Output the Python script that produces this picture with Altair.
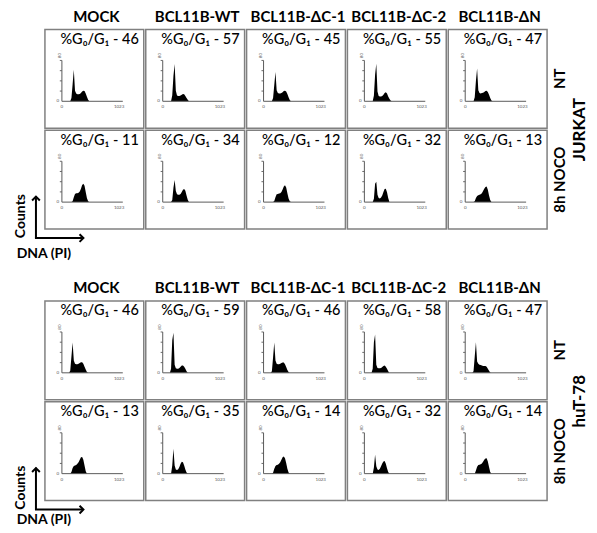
import altair as alt
import pandas as pd

constructs = ["MOCK", "BCL11B-WT", "BCL11B-ΔC-1", "BCL11B-ΔC-2", "BCL11B-ΔN"]
conditions = ["NT", "8h NOCO"]
dna = [120, 140, 160, 180, 200, 220, 240, 260, 280, 300, 320, 340, 360, 380, 400, 420, 440, 460]

# JURKAT, untreated
jurkat_nt_mock = [0, 0, 8, 42, 77, 26, 19, 17, 17, 18, 20, 24, 26, 25, 19, 11, 4, 0]
jurkat_nt_wt = [0, 0, 15, 62, 91, 26, 14, 13, 13, 14, 16, 18, 17, 13, 8, 4, 0, 0]
jurkat_nt_dc1 = [0, 0, 8, 40, 72, 27, 20, 19, 19, 20, 22, 25, 26, 24, 18, 10, 3, 0]
jurkat_nt_dc2 = [0, 0, 14, 65, 92, 24, 13, 12, 12, 13, 16, 20, 22, 19, 12, 6, 2, 0]
jurkat_nt_dn = [0, 0, 10, 50, 80, 27, 20, 19, 20, 21, 23, 25, 26, 23, 16, 8, 2, 0]
# JURKAT, 8h nocodazole
jurkat_noco_mock = [0, 0, 0, 2, 12, 20, 22, 22, 23, 26, 33, 42, 45, 40, 25, 10, 2, 0]
jurkat_noco_wt = [0, 0, 5, 35, 54, 27, 19, 18, 18, 20, 25, 30, 32, 28, 16, 6, 0, 0]
jurkat_noco_dc1 = [0, 0, 0, 3, 12, 19, 20, 21, 22, 25, 31, 38, 41, 36, 22, 9, 2, 0]
jurkat_noco_dc2 = [0, 0, 8, 45, 50, 18, 10, 9, 11, 16, 25, 32, 33, 24, 10, 0, 0, 0]
jurkat_noco_dn = [0, 0, 2, 10, 15, 17, 18, 19, 22, 27, 33, 37, 38, 30, 16, 5, 0, 0]
# huT-78, untreated
hut_nt_mock = [0, 5, 40, 74, 30, 22, 21, 21, 22, 24, 26, 26, 22, 15, 8, 2, 0, 0]
hut_nt_wt = [0, 10, 80, 98, 20, 11, 10, 10, 12, 15, 18, 18, 15, 10, 4, 0, 0, 0]
hut_nt_dc1 = [0, 4, 38, 74, 30, 22, 21, 21, 22, 24, 25, 25, 21, 14, 7, 2, 0, 0]
hut_nt_dc2 = [0, 10, 75, 94, 20, 12, 11, 11, 12, 14, 17, 18, 15, 10, 4, 0, 0, 0]
hut_nt_dn = [0, 4, 40, 75, 28, 22, 20, 19, 18, 17, 17, 17, 15, 10, 5, 1, 0, 0]
# huT-78, 8h nocodazole
hut_noco_mock = [0, 0, 4, 14, 19, 20, 21, 24, 28, 34, 40, 41, 34, 20, 6, 0, 0, 0]
hut_noco_wt = [0, 0, 20, 61, 20, 10, 9, 11, 16, 24, 29, 28, 20, 10, 3, 0, 0, 0]
hut_noco_dc1 = [0, 0, 2, 12, 19, 21, 22, 24, 28, 34, 40, 42, 38, 26, 12, 3, 0, 0]
hut_noco_dc2 = [0, 0, 15, 46, 18, 10, 9, 12, 18, 25, 30, 31, 24, 13, 4, 0, 0, 0]
hut_noco_dn = [0, 0, 0, 8, 17, 21, 22, 23, 25, 29, 34, 37, 38, 30, 16, 4, 0, 0]

jurkat_g0g1_nt = [46, 57, 45, 55, 47]
jurkat_g0g1_noco = [11, 34, 12, 32, 13]
hut_g0g1_nt = [46, 59, 46, 58, 47]
hut_g0g1_noco = [13, 35, 14, 32, 14]

y_ticks = [25, 50, 75, 100]

FONT = "Lato, 'DejaVu Sans', sans-serif"


def block_frame(hists, g0g1, cell_name):
    rows = []
    for ri, cond in enumerate(conditions):
        for ci, c in enumerate(constructs):
            for d, v in zip(dna, hists[cond][ci]):
                rows.append(dict(kind="hist", construct=c, cond=cond, ri=ri, ci=ci,
                                 dna=d, count=v))
            rows.append(dict(kind="label", construct=c, cond=cond, ri=ri, ci=ci,
                             cell=cell_name, label=f"%G₀/G₁ - {g0g1[cond][ci]}"))
            for t in y_ticks:
                rows.append(dict(kind="tick", construct=c, cond=cond, ri=ri, ci=ci, tick=t))
    rows.append(dict(kind="legend", construct="MOCK", cond="8h NOCO", ri=1, ci=0))
    return pd.DataFrame(rows)


xs = alt.Scale(domain=[-285, 1375])
ys = alt.Scale(domain=[-66, 176])
AX = "#5a5a5a"


def X(f):
    return alt.X(f, type="quantitative", scale=xs, axis=None)


def Y(f):
    return alt.Y(f, type="quantitative", scale=ys, axis=None)


def block(df, dna_label_y):
    base = alt.Chart()
    hist = base.transform_filter("datum.kind == 'hist'").transform_calculate(
        base0="0").mark_area(color="black", interpolate="linear").encode(
        x=X("dna"), y=alt.Y("count:Q", scale=ys, axis=None, stack=None),
        y2="base0:Q",
    )
    lab = base.transform_filter("datum.kind == 'label'").transform_calculate(
        zero="0", top="100", xend="1023", lblx="-70", lbly="-15", endx="961",
        topx="-40", topy="112", tickx="-35")
    yaxis = lab.mark_rule(color=AX, strokeWidth=1).encode(
        x=X("zero"), y=Y("zero"), y2="top:Q")
    xaxis = lab.mark_rule(color=AX, strokeWidth=1).encode(
        x=X("zero"), x2="xend:Q", y=Y("zero"))
    ticks = base.transform_filter("datum.kind == 'tick'").transform_calculate(
        zero="0", tickx="-35").mark_rule(color=AX, strokeWidth=0.9).encode(
        x=X("tickx"), x2="zero:Q", y=Y("tick"))
    tl0 = lab.mark_text(fontSize=4.5, color=AX, font=FONT).encode(
        x=X("lblx"), y=Y("zero"), text=alt.value("0"))
    tl1 = lab.mark_text(fontSize=4.5, color=AX, font=FONT).encode(
        x=X("zero"), y=Y("lbly"), text=alt.value("0"))
    tl2 = lab.mark_text(fontSize=4.5, color=AX, font=FONT).encode(
        x=X("endx"), y=Y("lbly"), text=alt.value("1023"))
    tl3 = lab.mark_text(fontSize=4.5, color=AX, font=FONT, angle=270).encode(
        x=X("topx"), y=Y("topy"), text=alt.value("80"))
    pct = lab.mark_text(fontSize=14.5, fontWeight=500, color="black", font=FONT,
                        align="right", baseline="middle").encode(
        x=alt.value(94), y=alt.value(10.5), text="label:N")

    # column headers (top row only), row labels and cell-line title (last column)
    colhead = lab.transform_filter("datum.ri == 0").mark_text(
        fontSize=15, fontWeight="bold", font=FONT, color="black",
        align="center", baseline="alphabetic").encode(
        x=alt.value(51.5), y=alt.value(-7.5), text="construct:N")
    rowhead = lab.transform_filter("datum.ci == 4").mark_text(
        fontSize=15, fontWeight="bold", font=FONT, color="black", angle=270,
        align="center", baseline="middle").encode(
        x=alt.value(112), y=alt.value(49.5), text="cond:N")
    title = lab.transform_filter("datum.ci == 4 && datum.ri == 0").mark_text(
        fontSize=17, fontWeight="bold", font=FONT, color="black", angle=270,
        align="center", baseline="middle").encode(
        x=alt.value(132), y=alt.value(100.5), text="cell:N")

    leg = base.transform_filter("datum.kind == 'legend'")
    vrule = leg.mark_rule(color="black", strokeWidth=2).encode(
        x=alt.value(-9), y=alt.value(108), y2=alt.value(66))
    hrule = leg.mark_rule(color="black", strokeWidth=2).encode(
        x=alt.value(-10), x2=alt.value(38), y=alt.value(108))
    up = leg.mark_point(shape="M-1,0.6L0,-0.4L1,0.6", filled=False, color="black",
                        strokeWidth=2, size=60, opacity=1).encode(
        x=alt.value(-9), y=alt.value(68))
    right = leg.mark_point(shape="M-0.6,-1L0.4,0L-0.6,1", filled=False, color="black",
                           strokeWidth=2, size=60, opacity=1).encode(
        x=alt.value(37), y=alt.value(108))
    counts = leg.mark_text(fontSize=14, fontWeight="bold", font=FONT, angle=270,
                           color="black").encode(
        x=alt.value(-24), y=alt.value(86), text=alt.value("Counts"))
    dnat = leg.mark_text(fontSize=14, fontWeight="bold", font=FONT,
                         color="black").encode(
        x=alt.value(-1), y=alt.value(dna_label_y), text=alt.value("DNA (PI)"))

    layered = alt.layer(hist, yaxis, xaxis, ticks, tl0, tl1, tl2, tl3, pct,
                        colhead, rowhead, title,
                        vrule, hrule, up, right, counts, dnat, data=df).properties(
        width=99, height=99)
    return layered.facet(
        row=alt.Row("cond:N", sort=conditions, title=None, header=None),
        column=alt.Column("construct:N", sort=constructs, title=None, header=None),
        spacing=2,
        bounds="flush",
    )


jurkat_df = block_frame(
    {"NT": [jurkat_nt_mock, jurkat_nt_wt, jurkat_nt_dc1, jurkat_nt_dc2, jurkat_nt_dn],
     "8h NOCO": [jurkat_noco_mock, jurkat_noco_wt, jurkat_noco_dc1, jurkat_noco_dc2, jurkat_noco_dn]},
    {"NT": jurkat_g0g1_nt, "8h NOCO": jurkat_g0g1_noco}, "JURKAT")
hut_df = block_frame(
    {"NT": [hut_nt_mock, hut_nt_wt, hut_nt_dc1, hut_nt_dc2, hut_nt_dn],
     "8h NOCO": [hut_noco_mock, hut_noco_wt, hut_noco_dc1, hut_noco_dc2, hut_noco_dn]},
    {"NT": hut_g0g1_nt, "8h NOCO": hut_g0g1_noco}, "huT-78")

chart = alt.vconcat(block(jurkat_df, 124), block(hut_df, 118), spacing=18).properties(
    padding={"left": 5, "top": 0, "right": 0, "bottom": 0},
    background="white",
).configure_view(stroke="#808080", strokeWidth=1.5)

chart.save("out.html", embed_options={"renderer": "svg", "actions": False})
